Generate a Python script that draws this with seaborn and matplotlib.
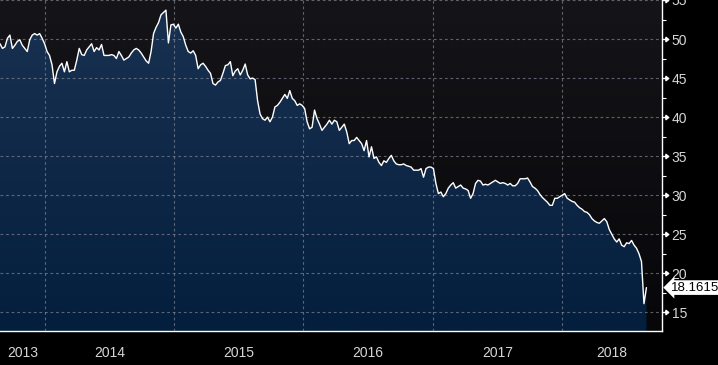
import numpy as np
import pandas as pd
import matplotlib.pyplot as plt
import matplotlib.dates as mdates
import matplotlib.path as mpath
from matplotlib.colors import LinearSegmentedColormap
from matplotlib.patches import Polygon
from matplotlib.ticker import MultipleLocator
import seaborn as sns

# weekly closes
START = "2013-08-27"
X_END = "2018-10-11"
LAST = 18.1615
price = [
    49.4, 48.8, 49.0, 50.1, 50.5, 48.8, 49.2, 49.7, 49.9, 49.2,
    48.8, 48.4, 49.9, 50.5, 50.7, 50.5, 50.7, 50.1, 49.4, 48.4,
    47.9, 46.7, 44.3, 45.8, 46.5, 46.9, 45.8, 47.1, 45.8, 46.0,
    46.0, 47.3, 48.8, 48.0, 47.9, 48.6, 49.0, 49.4, 48.4, 48.9,
    48.6, 49.3, 47.9, 47.9, 47.9, 48.0, 47.9, 47.5, 48.4, 47.9,
    47.3, 47.5, 47.7, 48.2, 48.6, 48.8, 48.6, 48.2, 47.7, 47.2,
    46.9, 48.4, 50.7, 51.5, 52.1, 53.1, 53.4, 53.7, 49.5, 51.8,
    51.9, 51.4, 51.9, 50.9, 50.3, 49.2, 48.4, 48.2, 48.5, 47.9,
    46.2, 46.7, 46.9, 46.5, 46.0, 45.6, 44.3, 44.1, 44.5, 44.7,
    45.6, 46.6, 46.7, 47.1, 45.3, 45.9, 46.2, 45.4, 46.0, 46.8,
    45.4, 44.9, 45.0, 44.8, 42.1, 40.4, 39.8, 39.6, 40.0, 39.4,
    40.0, 41.3, 41.5, 41.9, 42.4, 42.9, 42.4, 43.4, 42.4, 42.1,
    41.5, 41.7, 41.5, 41.1, 39.4, 38.5, 38.7, 40.9, 39.8, 39.1,
    38.3, 38.7, 39.1, 39.6, 39.1, 39.6, 39.4, 38.3, 38.7, 39.1,
    38.1, 36.6, 37.0, 37.0, 37.4, 37.0, 36.6, 35.7, 37.0, 34.9,
    36.2, 34.7, 34.9, 34.2, 33.8, 34.4, 34.2, 34.7, 35.1, 34.4,
    34.0, 33.9, 33.9, 34.0, 33.8, 33.7, 33.6, 33.2, 33.2, 33.2,
    33.4, 32.3, 33.4, 33.6, 33.6, 33.4, 31.5, 30.2, 30.4, 29.8,
    30.2, 30.9, 31.3, 31.6, 30.9, 31.1, 31.3, 30.9, 30.8, 30.6,
    29.6, 30.2, 31.5, 31.9, 31.8, 31.3, 31.4, 31.3, 31.5, 31.7,
    31.9, 31.7, 31.5, 31.6, 31.5, 31.3, 31.5, 31.2, 31.2, 31.5,
    32.1, 32.1, 32.1, 32.2, 31.7, 31.1, 30.9, 30.6, 30.1, 29.7,
    29.4, 29.1, 28.7, 28.7, 29.6, 29.6, 29.8, 30.0, 30.2, 29.6,
    29.4, 29.2, 29.1, 28.7, 28.4, 28.2, 27.9, 27.8, 27.5, 27.0,
    26.7, 26.5, 26.4, 26.7, 27.0, 26.6, 25.6, 25.0, 24.4, 24.0,
    24.4, 23.6, 23.4, 23.9, 23.8, 24.2, 23.6, 23.2, 22.5, 21.5,
    16.1, LAST,
]
years = [2013, 2014, 2015, 2016, 2017, 2018]
y_ticks = [15, 20, 25, 30, 35, 40, 45, 50, 55]

sns.set_style("dark")
plt.rcParams['font.family'] = ['Liberation Sans', 'DejaVu Sans']

df = pd.DataFrame({
    "date": pd.date_range(START, periods=len(price), freq="7D"),
    "price": price,
})

fig = plt.figure(figsize=(7.18, 3.65), dpi=100, facecolor="black")
ax = fig.add_axes([0, 34 / 365, 662 / 718, 331 / 365])
ax.set_facecolor("#101013")

x0 = mdates.date2num(pd.Timestamp(START))
x1 = mdates.date2num(pd.Timestamp(X_END))
y0, y1 = 12.6, 55.0

# background gradient
bg = LinearSegmentedColormap.from_list("bg", ["#07070a", "#151519"])
grad = np.linspace(0, 1, 256).reshape(-1, 1)
ax.imshow(grad, extent=[x0, x1, y0, y1], origin="lower", aspect="auto",
          cmap=bg, zorder=0)

# gradient fill under the line
xd = mdates.date2num(df["date"])
verts = np.column_stack([np.r_[xd[0], xd, xd[-1]],
                         np.r_[y0, df["price"], y0]])
poly = Polygon(verts, closed=True, fc="none", ec="none",
               transform=ax.transData)
ax.add_patch(poly)
fillmap = LinearSegmentedColormap.from_list("fill", ["#041e3e", "#1a3252"])
im = ax.imshow(grad, extent=[x0, x1, y0, y1], origin="lower",
               aspect="auto", cmap=fillmap, zorder=1)
im.set_clip_path(poly)

sns.lineplot(data=df, x="date", y="price", color="white", lw=1.0,
             ax=ax, zorder=4)

ax.set_xlim(x0, x1)
ax.set_ylim(y0, y1)
ax.set_xlabel("")
ax.set_ylabel("")

# axes / ticks
for s in ["left", "top"]:
    ax.spines[s].set_visible(False)
for s in ["right", "bottom"]:
    ax.spines[s].set_visible(True)
    ax.spines[s].set_color("white")
    ax.spines[s].set_linewidth(1.0)

ax.yaxis.tick_right()
ax.set_yticks(y_ticks)
ax.yaxis.set_minor_locator(MultipleLocator(2.5))
ax.tick_params(axis="y", which="major", length=5, width=1, color="white",
               labelcolor="#d6d6d6", labelsize=10, pad=2)
ax.tick_params(axis="y", which="minor", length=3, width=0.8, color="white")
arrow = mpath.Path([(0, 0), (0.55, 0), (0.55, -0.35), (1, 0), (0.55, 0.35), (0.55, 0)],
                   [1, 2, 2, 2, 2, 2])
for t in ax.yaxis.get_major_ticks():
    t.tick2line.set_marker(arrow)
    t.tick2line.set_markersize(9)
    t.tick2line.set_markerfacecolor("white")

ax.xaxis.set_major_locator(mdates.YearLocator())
ax.xaxis.set_minor_locator(mdates.MonthLocator(bymonth=[4, 7, 10]))
ax.xaxis.set_major_formatter(plt.NullFormatter())
ax.tick_params(axis="x", which="major", length=34, width=0.8, color="#8a8a8a")
ax.tick_params(axis="x", which="minor", length=4, width=1, color="white")

ax.grid(True, which="major", axis="both", color="#8a8c98", alpha=0.65,
        linestyle=(0, (2.5, 2.5)), linewidth=0.8)
ax.set_axisbelow(False)

# year labels centred in the visible part of each year
for yr in years:
    a = max(mdates.date2num(pd.Timestamp(f"{yr}-01-01")), x0)
    b = min(mdates.date2num(pd.Timestamp(f"{yr + 1}-01-01")), x1)
    ax.text((a + b) / 2, -0.066, str(yr), transform=ax.get_xaxis_transform(),
            ha="center", va="center", color="#d6d6d6", fontsize=10)

# last value tag
ax.annotate(f"{LAST}", xy=(1, LAST), xycoords=("axes fraction", "data"),
            xytext=(6.5, 0), textcoords="offset points", ha="left", va="center",
            color="black", fontsize=9.5, annotation_clip=False,
            bbox=dict(boxstyle="larrow,pad=0.1", fc="white", ec="none"))

fig.savefig("out.png", dpi=100, facecolor="black")
